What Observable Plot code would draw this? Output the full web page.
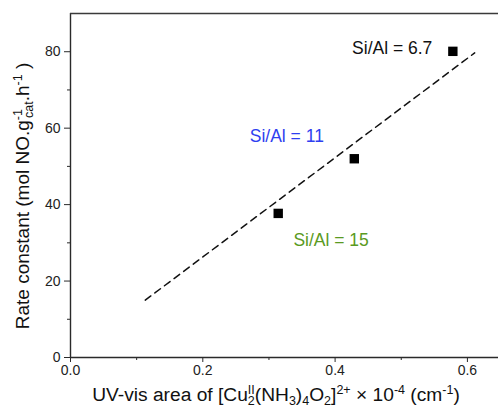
<!DOCTYPE html>
<html>
<head>
<meta charset="utf-8">
<script src="https://cdn.jsdelivr.net/npm/d3@7"></script>
<script src="https://cdn.jsdelivr.net/npm/@observablehq/plot@0.6"></script>
<style>
  body { margin: 0; background: #fff; }
  #chart svg { display: block; }
</style>
</head>
<body>
<div id="chart"></div>
<script>
// Data
const ratios = ["6.7", "11", "15"];
const area = [0.578, 0.429, 0.314];
const rate = [80.1, 52.0, 37.7];
const fitX = [0.113, 0.611];
const fitY = [15.0, 79.7];
const labelText = ["Si/Al = 6.7", "Si/Al = 11", "Si/Al = 15"];
const labelX = [0.547, 0.271, 0.337];
const labelY = [81.0, 57.8, 30.6];
const labelColor = ["#111111", "#2f3ff0", "#5a9a22"];
const labelAnchor = ["end", "start", "start"];
const xTicks = [0, 0.2, 0.4, 0.6];
const xMinor = [0.1, 0.3, 0.5];
const yTicks = [0, 20, 40, 60, 80];
const yMinor = [10, 30, 50, 70];

const points = area.map((a, i) => ({x: a, y: rate[i], ratio: ratios[i]}));
const fit = fitX.map((x, i) => ({x, y: fitY[i]}));
const labels = labelText.map((t, i) => ({t, x: labelX[i], y: labelY[i], c: labelColor[i], a: labelAnchor[i]}));

const font = "'Liberation Sans', Arial, sans-serif";
const axisColor = "#2a2a2a";

const plot = Plot.plot({
  width: 498,
  height: 411,
  marginLeft: 70,
  marginRight: 0,
  marginTop: 13,
  marginBottom: 54,
  style: {fontFamily: font, fontSize: "14px", color: "#222", background: "#fff"},
  x: {domain: [0, 0.647]},
  y: {domain: [0, 90]},
  marks: [
    Plot.axisX({ticks: xTicks, tickSize: 5, tickPadding: 3, tickFormat: d3.format(".1f"), label: null, stroke: axisColor, fontSize: 14}),
    Plot.axisX({ticks: xMinor, tickSize: 3, tickFormat: () => "", label: null, stroke: axisColor}),
    Plot.axisY({ticks: yTicks, tickSize: 6, tickPadding: 4, label: null, stroke: axisColor, fontSize: 14}),
    Plot.axisY({ticks: yMinor, tickSize: 3, tickFormat: () => "", label: null, stroke: axisColor}),
    Plot.ruleX([0], {stroke: axisColor, strokeWidth: 1.4}),
    Plot.ruleY([0], {stroke: axisColor, strokeWidth: 1.4}),
    Plot.ruleY([90], {stroke: "#3a3a3a", strokeWidth: 1.4}),
    Plot.line(fit, {x: "x", y: "y", stroke: "#111", strokeWidth: 1.5, strokeDasharray: "7,5"}),
    Plot.dot(points, {x: "x", y: "y", symbol: "square", r: 5.3, fill: "#000", stroke: "none"}),
    Plot.text(labels.filter(d => d.a === "end"), {x: "x", y: "y", text: "t", fill: d => d.c, textAnchor: "end", fontSize: 17.5}),
    Plot.text(labels.filter(d => d.a === "start"), {x: "x", y: "y", text: "t", fill: d => d.c, textAnchor: "start", fontSize: 17.5})
  ]
});

document.getElementById("chart").appendChild(plot);

const svg = d3.select(plot);
// X axis title
const xt = svg.append("text")
  .attr("x", 276).attr("y", 401)
  .attr("text-anchor", "middle")
  .attr("font-family", font).attr("font-size", 19.2).attr("fill", "#111");
xt.append("tspan").text("UV-vis area of [Cu");
xt.append("tspan").attr("font-size", 12.5).attr("dy", -7).text("II");
xt.append("tspan").attr("font-size", 12.5).attr("dx", -7).attr("dy", 11).text("2");
xt.append("tspan").attr("dy", -4).text("(NH");
xt.append("tspan").attr("font-size", 12.5).attr("dy", 4).text("3");
xt.append("tspan").attr("dy", -4).text(")");
xt.append("tspan").attr("font-size", 12.5).attr("dy", 4).text("4");
xt.append("tspan").attr("dy", -4).text("O");
xt.append("tspan").attr("font-size", 12.5).attr("dy", 4).text("2");
xt.append("tspan").attr("dy", -4).text("]");
xt.append("tspan").attr("font-size", 12.5).attr("dy", -7).text("2+");
xt.append("tspan").attr("dy", 7).text(" \u00d7 10");
xt.append("tspan").attr("font-size", 12.5).attr("dy", -7).text("-4");
xt.append("tspan").attr("dy", 7).text(" (cm");
xt.append("tspan").attr("font-size", 12.5).attr("dy", -7).text("-1");
xt.append("tspan").attr("dy", 7).text(")");

// Y axis title
const yt = svg.append("text")
  .attr("transform", "translate(29,196) rotate(-90)")
  .attr("text-anchor", "middle")
  .attr("font-family", font).attr("font-size", 19).attr("fill", "#111");
yt.append("tspan").text("Rate constant (mol NO.g");
yt.append("tspan").attr("font-size", 12.5).attr("dy", -7).text("-1");
yt.append("tspan").attr("font-size", 12.5).attr("dx", -9).attr("dy", 11).text("cat");
yt.append("tspan").attr("dy", -4).text(".h");
yt.append("tspan").attr("font-size", 12.5).attr("dy", -7).text("-1");
yt.append("tspan").attr("dy", 7).text(" )");
</script>
</body>
</html>
